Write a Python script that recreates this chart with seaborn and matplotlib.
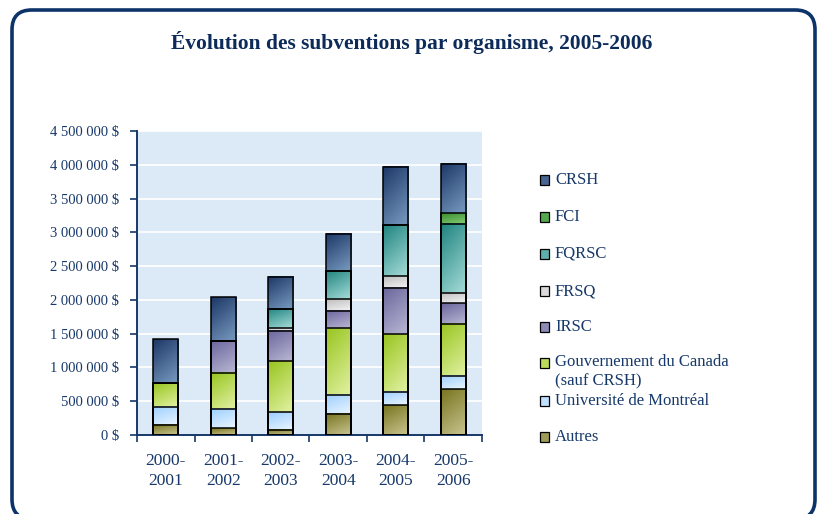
import matplotlib
matplotlib.use("Agg")
import matplotlib.pyplot as plt
import seaborn as sns
import pandas as pd
import numpy as np
from matplotlib.patches import FancyBboxPatch, Rectangle
from matplotlib.colors import to_rgb

years = ["2000-\n2001", "2001-\n2002", "2002-\n2003", "2003-\n2004", "2004-\n2005", "2005-\n2006"]
# stacked from bottom to top
autres = [153000, 99000, 79000, 311000, 440000, 677000]
udem = [267000, 282000, 257000, 282000, 198000, 193000]
gouv = [346000, 534000, 752000, 989000, 855000, 776000]
irsc = [0, 474000, 450000, 252000, 687000, 302000]
frsq = [0, 0, 44000, 173000, 173000, 153000]
fqrsc = [0, 0, 282000, 416000, 757000, 1029000]
fci = [0, 0, 0, 0, 0, 153000]
crsh = [648000, 648000, 479000, 558000, 860000, 732000]

series_names = ["Autres", "Université de Montréal", "Gouvernement du Canada\n(sauf CRSH)",
                "IRSC", "FRSQ", "FQRSC", "FCI", "CRSH"]
series_vals = [autres, udem, gouv, irsc, frsq, fqrsc, fci, crsh]
colors = ["#a09c55", "#bfe0ff", "#bcdc5a", "#8d8ab6", "#d9d9d9", "#5fb0ad", "#55a84e", "#466590"]
dark = ["#78741e", "#9ccfff", "#98c520", "#6a669d", "#bdbdbd", "#1f837e", "#3a8f2f", "#1d3766"]
light = ["#c2be88", "#e4f2ff", "#dcee98", "#b2b1cf", "#f0f0f0", "#9bd5d2", "#80c76e", "#7092b9"]
yticks = [0, 500000, 1000000, 1500000, 2000000, 2500000, 3000000, 3500000, 4000000, 4500000]
ytick_labels = ["0 $", "500 000 $", "1 000 000 $", "1 500 000 $", "2 000 000 $", "2 500 000 $",
                "3 000 000 $", "3 500 000 $", "4 000 000 $", "4 500 000 $"]

sns.set_theme(style="white")
plt.rcParams["font.family"] = ["Liberation Serif", "DejaVu Serif"]

navy = "#16386a"
fig = plt.figure(figsize=(8.2, 5.14), dpi=100)
fig.patch.set_facecolor("white")

# rounded frame (bottom edge just below the image)
frame = FancyBboxPatch((12 / 820, -5 / 514), (815 - 12) / 820, (514 + 5 - 10) / 514,
                       boxstyle="round,pad=0,rounding_size=0.024", transform=fig.transFigure,
                       facecolor="white", edgecolor="#0d3469", linewidth=2.6,
                       mutation_aspect=820 / 514, zorder=-5)
fig.patches.append(frame)

ax = fig.add_axes([137 / 820, (514 - 435) / 514, (482 - 137) / 820, (435 - 131) / 514])
ax.set_facecolor("#dce9f6")
ax.set_zorder(2)

df = pd.DataFrame({"year": years})
cum = np.zeros(len(years))
cums = []
for v in series_vals:
    cum = cum + np.array(v)
    cums.append(cum.copy())

layer_patches = {}
for i in range(len(series_vals) - 1, -1, -1):
    df["v"] = cums[i]
    n0 = len(ax.patches)
    sns.barplot(data=df, x="year", y="v", color=colors[i], saturation=1, width=0.44,
                edgecolor="black", linewidth=1.1, ax=ax, zorder=3)
    layer_patches[i] = list(ax.patches[n0:])

# gradient fills under the outlined bars
gx, gy = np.meshgrid(np.linspace(0, 1, 24), np.linspace(0, 1, 48))
tgrid = np.clip(0.35 * gx + 0.75 * gy, 0, 1)
for i, plist in layer_patches.items():
    c0 = np.array(to_rgb(dark[i]))
    c1 = np.array(to_rgb(light[i]))
    img = c0[None, None, :] * (1 - tgrid[..., None]) + c1[None, None, :] * tgrid[..., None]
    for j, p in enumerate(plist):
        lo = cums[i - 1][j] if i > 0 else 0.0
        hi = p.get_y() + p.get_height()
        p.set_facecolor("none")
        p.set_zorder(3 + (7 - i) * 0.01)
        if hi - lo <= 0:
            continue
        x0 = p.get_x()
        ax.imshow(img, extent=(x0, x0 + p.get_width(), lo, hi), origin="upper",
                  aspect="auto", interpolation="bilinear", zorder=2.5)

ax.set_ylim(0, 4500000)
ax.set_xlim(-0.5, 5.5)
ax.set_yticks(yticks)
ax.set_yticklabels(ytick_labels, color=navy, fontsize=10.5)
ax.yaxis.grid(True, color="white", linewidth=1.2, zorder=0)
ax.set_axisbelow(True)
ax.set_xlabel("")
ax.set_ylabel("")
ax.set_xticks(range(len(years)))
ax.set_xticklabels(years, color=navy, fontsize=12.5, linespacing=1.35)
ax.tick_params(axis="x", which="major", length=0, pad=13)
ax.set_xticks(np.arange(-0.5, 6.0, 1.0), minor=True)
ax.tick_params(axis="x", which="minor", length=5, color=navy, width=1.2, direction="out", bottom=True)
ax.tick_params(axis="y", length=5, color=navy, width=1.2, direction="out", left=True, pad=8)
for s in ["top", "right"]:
    ax.spines[s].set_visible(False)
for s in ["left", "bottom"]:
    ax.spines[s].set_visible(True)
    ax.spines[s].set_color(navy)
    ax.spines[s].set_linewidth(1.4)

fig.text(412 / 820, 1 - 42 / 514, "Évolution des subventions par organisme, 2005-2006",
         ha="center", va="center", fontsize=15.5, fontweight="bold", color="#0d2b5a")

# legend (manual placement)
leg_order = [7, 6, 5, 4, 3, 2, 1, 0]
leg_y = [180, 217, 254, 291, 327, 363, 401, 437]
for idx, yy in zip(leg_order, leg_y):
    fig.patches.append(Rectangle((540 / 820, 1 - (yy + 5) / 514), 9 / 820, 10 / 514,
                                 transform=fig.transFigure, facecolor=colors[idx],
                                 edgecolor="black", linewidth=0.9))
    multi = "\n" in series_names[idx]
    fig.text(555 / 820, 1 - (yy - 9 if multi else yy) / 514, series_names[idx], ha="left",
             va="top" if multi else "center", fontsize=12, color=navy, linespacing=1.3)

fig.savefig("out.png", dpi=100)
